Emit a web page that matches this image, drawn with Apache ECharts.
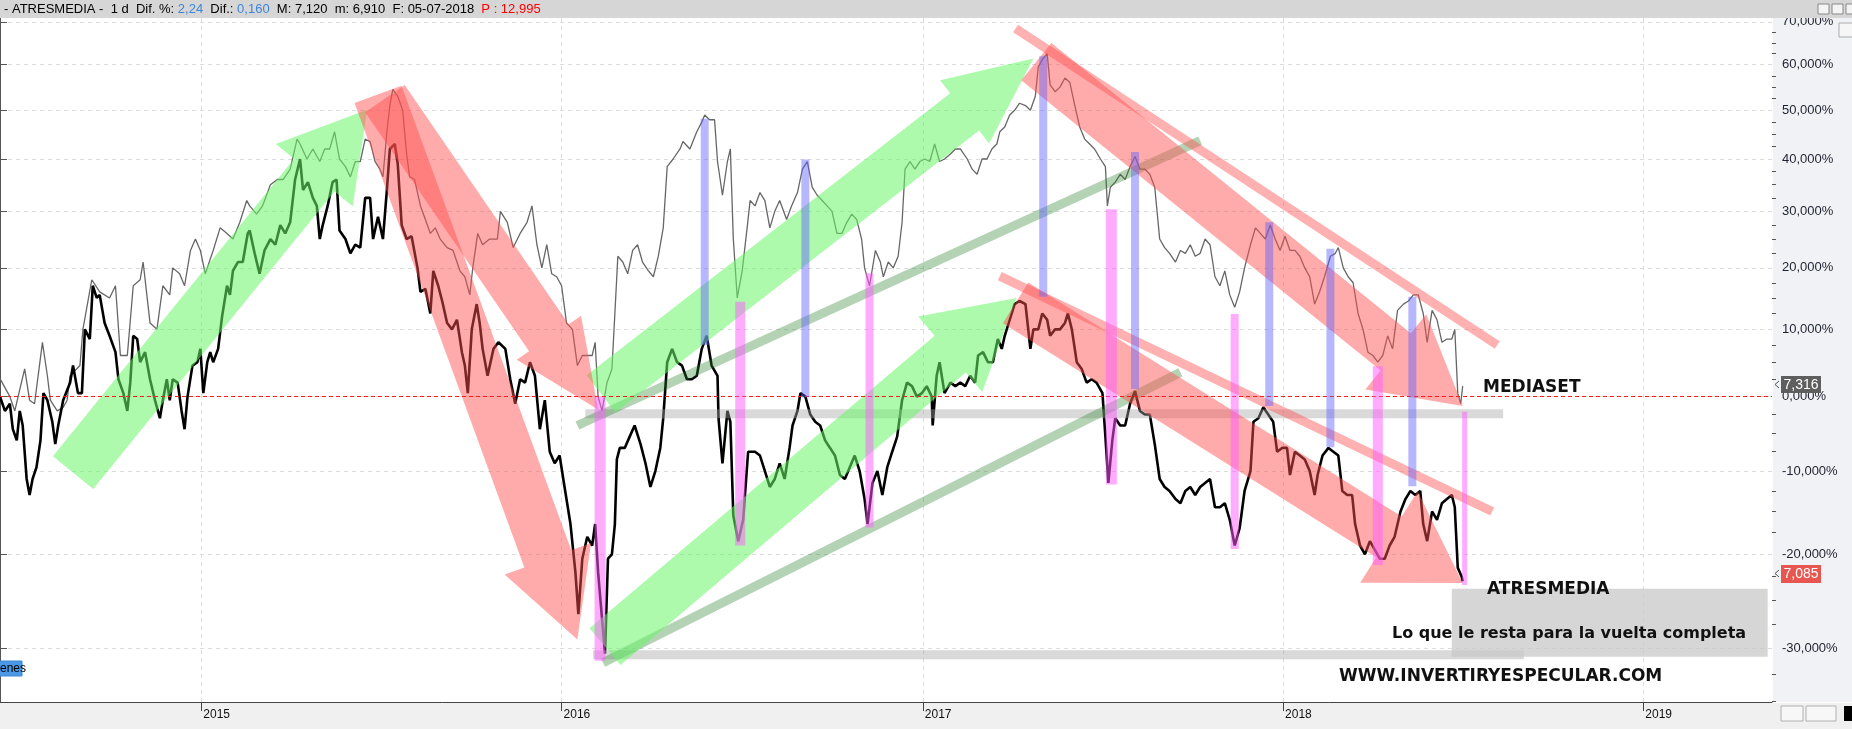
<!DOCTYPE html>
<html><head><meta charset="utf-8">
<script src="https://cdn.jsdelivr.net/npm/echarts@6/dist/echarts.min.js"></script>
<style>html,body{margin:0;padding:0;background:#fff;}#c{width:1852px;height:729px;}</style>
</head><body><div id="c"></div>
<script>
// ---- axis ticks (x in days since 2014-06-11, y in % change) ----
const yearTickDays = [204, 569, 935, 1300, 1665];
const yearTickLabels = ['2015', '2016', '2017', '2018', '2019'];
const pctTicks = [-30, -20, -10, 0, 10, 20, 30, 40, 50, 60, 70];
const pctMinorTicks = [-35,-32.5,-27.5,-25,-22.5,-17.5,-15,-12.5,-7.5,-5,-2.5,2.5,5,7.5,12.5,15,17.5,22.5,25,27.5,32.5,35,37.5,42.5,45,47.5,52.5,55,57.5,62.5,65,67.5];

// ---- MEDIASET (grey) [day, %] ----
const mediaset = [[0,2.6],[10,0],[15,-2],[20,1],[25,4],[30,-0.5],[35,-1],[43,8],[48,3],[51,-0.5],[58,-2],[64,-1.5],[68,-0.5],[71,3],[81,4.5],[84,10],[93,18],[101,16],[111,15],[117,17],[122,6],[129,6],[135,17],[142,18],[145,21],[152,11],[159,10],[165,17],[172,15.5],[175,20],[182,19],[187,17],[193,23],[198,25],[203,23],[208,19],[216,23],[223,27],[230,26],[236,25],[243,28],[250,32],[253,31],[260,29.5],[266,31],[274,35],[281,36],[287,36],[294,38],[301,44],[304,43],[311,40],[317,42],[324,39.5],[329,42],[334,42],[339,45.5],[344,40],[350,38.5],[355,36.5],[360,39.5],[365,39.5],[370,44],[375,43.5],[380,39.5],[385,38],[388,36.5],[392,45.5],[395,51],[398,54.5],[403,53],[408,50],[412,41],[415,36.5],[420,36],[426,31],[431,28.5],[436,26],[441,27],[446,25],[453,23.5],[459,23],[466,19.5],[471,18.5],[476,15.5],[479,20],[484,26],[489,24],[496,25],[504,25],[507,30],[514,28],[520,23.5],[527,26],[534,28],[539,31],[544,24],[549,20],[554,24],[559,19],[564,18.5],[569,17],[574,11],[580,10],[585,4.5],[590,6],[595,6],[600,6],[603,8],[606,0],[610,-2],[615,2],[620,4],[623,12.5],[626,22],[631,21],[636,19],[641,23],[646,24],[651,21],[657,19.5],[662,18.5],[667,22],[672,27],[676,38.5],[682,40],[689,42],[692,43.5],[699,42],[706,45.5],[711,47.5],[714,49],[719,48],[724,48],[727,39.5],[732,33],[737,39.5],[740,42],[743,25],[747,15],[752,19.5],[757,27],[760,32],[765,31],[770,33.5],[775,32],[780,27],[785,30],[790,32],[797,28.5],[802,31],[808,33.5],[813,38],[818,39.5],[823,34.5],[828,33],[833,32],[838,31],[843,30],[848,26],[853,26],[858,28],[863,29.5],[868,28.5],[873,25],[876,20],[881,17],[887,23],[892,21],[895,18.5],[900,21],[905,20],[910,22],[914,28],[917,38],[922,39.5],[927,38],[932,39.5],[937,40],[942,39.5],[947,43],[952,39.5],[957,40],[963,41],[968,42],[973,42],[980,40],[985,38],[990,37],[995,40],[1000,40],[1005,42],[1010,43],[1013,45.5],[1018,46.5],[1023,49],[1028,50],[1033,51.5],[1039,51],[1044,50],[1049,53],[1052,59.5],[1057,61.5],[1061,62.5],[1064,55.5],[1069,54],[1074,55],[1079,57],[1084,56],[1089,51],[1094,46.5],[1099,44],[1104,43],[1109,42],[1115,40],[1120,38.5],[1122,31],[1125,34.5],[1130,35.5],[1135,37],[1140,36],[1145,38.5],[1150,40.5],[1155,38],[1160,38],[1165,37],[1170,34.5],[1175,25],[1180,23.5],[1185,22.5],[1191,21],[1196,23],[1201,22.5],[1206,24],[1211,22],[1216,22.5],[1221,25],[1226,24],[1231,18.5],[1236,17],[1241,19.5],[1246,15.5],[1251,13.5],[1256,16],[1261,20],[1267,24],[1272,27],[1277,26],[1282,25],[1287,27.5],[1292,25],[1297,23],[1302,25.5],[1307,23],[1312,23],[1317,22],[1322,20],[1327,18.5],[1332,14],[1337,16],[1342,18.5],[1348,22],[1353,22.5],[1356,23.5],[1361,20],[1366,18.5],[1371,17.5],[1376,12.5],[1381,10],[1386,6.5],[1391,6],[1396,5],[1401,6],[1406,9],[1411,7],[1416,13],[1422,14],[1427,14.5],[1432,15.5],[1437,15.5],[1442,12.5],[1446,8],[1451,13],[1456,11.5],[1461,8],[1466,8.5],[1471,8.5],[1474,10],[1477,0.5],[1480,-1],[1482,1.5]];

// ---- ATRESMEDIA (black) [day, %] ----
const atresmedia = [[0,0],[5,-2],[10,-1],[13,-4.5],[17,-6],[20,-2],[23,-4],[27,-11],[30,-13],[33,-11],[37,-9.5],[41,-6],[44,0.5],[48,-0.5],[53,-3.5],[56,-6.5],[59,-4],[64,-0.5],[71,2],[74,4.5],[79,0.5],[83,0.5],[86,10],[91,8.5],[94,17],[98,15],[101,15.5],[106,11],[111,9],[117,6.5],[120,2.5],[125,0.5],[129,-2],[132,2],[135,9],[139,8.5],[142,5],[147,6.5],[152,2.5],[157,-0.5],[162,-3],[165,-0.5],[169,2.5],[172,-0.5],[175,2.5],[180,2],[184,-2],[187,-4.5],[190,0],[195,4.5],[200,5],[203,7],[206,0.5],[210,5],[213,6.5],[216,5],[221,7],[225,12],[230,17],[233,15.5],[236,19.5],[241,21],[246,21],[251,26],[253,26.5],[258,22.5],[263,19],[268,23],[274,25],[279,24],[284,27.5],[289,26],[294,28],[299,36],[304,40],[307,34],[312,35.5],[317,32.5],[321,31],[324,25],[327,27.5],[332,31],[337,35.5],[341,36],[344,26.5],[350,25],[355,22.5],[360,24],[365,23.5],[370,32.5],[375,32.5],[378,25],[383,29],[388,25],[392,34],[395,42],[400,43],[403,39],[407,27.5],[412,25],[417,25.5],[423,20],[426,16],[431,16.5],[436,12.5],[439,19.5],[444,17],[448,14.5],[453,11],[458,10],[463,11.5],[468,6.5],[471,4.5],[474,0.5],[478,10],[483,14],[486,11],[489,7],[494,3],[500,7],[505,8],[512,7],[517,2.5],[522,-1],[527,2.5],[532,2],[537,5],[542,3],[547,-4.5],[552,-0.5],[557,-7.5],[562,-9],[567,-8],[572,-12],[578,-16.5],[583,-22],[586,-26.5],[590,-20.5],[595,-18],[600,-19],[603,-16.5],[606,-22],[610,-27],[613,-30.5],[616,-20.5],[620,-20],[623,-16.5],[625,-8.5],[628,-7],[633,-7],[638,-5.5],[643,-4],[649,-6.5],[654,-9],[659,-12],[664,-10],[669,-7],[672,-3],[676,5],[681,7],[686,5],[691,4.5],[696,2.5],[701,2.5],[706,3],[711,7],[716,9],[721,4.5],[727,3],[728,-3],[732,-9],[737,-2],[740,-3.5],[743,-15.5],[748,-18.5],[753,-16],[758,-7.5],[765,-7.5],[770,-8],[775,-10],[780,-12],[785,-11],[790,-9],[795,-11],[800,-7],[803,-4],[808,-2],[811,0.5],[816,0],[821,-2.5],[826,-3.5],[831,-4],[836,-6],[841,-7],[846,-8],[851,-10.5],[856,-11],[861,-9.5],[866,-8],[871,-10],[876,-13.5],[879,-16.5],[884,-11.5],[889,-10],[894,-13],[899,-9.5],[904,-7.5],[909,-5.5],[914,-0.5],[919,2],[924,1.5],[929,0],[934,0.5],[939,1.5],[944,0],[945,-4],[949,3],[952,5],[957,0.5],[963,2],[968,1.5],[973,2],[978,1.5],[983,3],[988,2],[991,6],[996,6.5],[1001,5],[1006,5],[1011,8.5],[1015,7],[1018,9],[1023,11.5],[1028,14],[1033,14.5],[1039,14],[1044,7],[1047,10],[1052,10],[1056,12.5],[1061,11.5],[1064,9],[1069,10],[1074,10],[1079,11],[1082,12.5],[1086,10],[1091,5],[1096,4],[1101,2],[1106,2.5],[1111,2],[1117,0.5],[1120,-5.5],[1123,-11.5],[1127,-6],[1130,-3],[1135,-4],[1140,-4],[1145,-1],[1150,0.8],[1155,-2],[1160,-2.5],[1165,-2.5],[1170,-6.5],[1175,-11],[1180,-12],[1185,-12.5],[1191,-13.5],[1196,-14],[1201,-12.5],[1206,-12],[1211,-13],[1216,-12],[1221,-11.5],[1226,-11],[1231,-14.5],[1236,-14.5],[1241,-14],[1246,-16],[1251,-19],[1256,-17],[1261,-12.5],[1267,-10],[1270,-3.5],[1275,-3],[1280,-1.5],[1285,-2.5],[1290,-3.5],[1294,-7.5],[1299,-7],[1304,-7],[1307,-10.5],[1312,-7.5],[1317,-8],[1322,-8.5],[1327,-10],[1332,-13],[1335,-10.5],[1340,-8],[1346,-7],[1351,-7.5],[1356,-8],[1360,-12.5],[1365,-13],[1370,-13],[1373,-16.5],[1378,-19],[1383,-20],[1388,-18.5],[1393,-19.5],[1398,-20.5],[1403,-20.5],[1408,-19],[1413,-18],[1419,-15],[1424,-13.5],[1429,-12.5],[1434,-13],[1439,-12.5],[1442,-16.5],[1446,-18.5],[1451,-15],[1456,-16],[1461,-14],[1466,-13.5],[1471,-13],[1474,-14.5],[1477,-21.5],[1481,-22.5],[1482,-23]];

// ---- annotations (data coordinates: [day, %]) ----
const greenArrows = [[74,-10.2,372,50.1],[609,0.4,1047,61.4],[613,-29.8,1030,15.0]];
const redArrows = [[383,53.4,585,-29.1],[390,52.5,606,-1.8],[1050,60.7,1482,-1.3],[1029,14.2,1482,-23.2]];
const redLines = [[1029,68.4,1517,7.6],[1013,18.6,1512,-15.0]];
const greenLines = [[585,-4.0,1216,43.7],[611,-31.4,1196,3.5]];
const greyBands = [[593,1523,-2.4],[601,1544,-30.6]];
const blueBars = [[714,48.2,7.6],[816,39.9,-0.1],[1057,61.9,15.2],[1150,41.4,1.1],[1286,28.0,-1.3],[1348,23.3,-6.9],[1431,15.2,-11.9]];
const pinkBars = [[608,0,-31.2],[750,14.4,-19.0],[881,19.1,-16.9],[1126,30.4,-11.7],[1251,12.4,-19.4],[1396,4.4,-21.2],[1484,-2.1,-23.4]];
const noteBox = [[1471,-23.8,1791,-30.8]];

// ---- styles / sizes (pixels) ----
const greenArrowSizes = [[52,99,84],[47,80,87],[48,99,87]];
const redArrowSizes = [[50,92,86],[48,78,87],[48,97,86],[48,108,87]];
const pinkBarWidths = [11,10,8,11,8,10,5];

const toY = p => Math.log(1 + p / 100);

function arrowSeries(list, sizes, color) {
  return {
    type: 'custom', silent: true, z: 4,
    data: list.map(a => [a[0], toY(a[1]), a[2], toY(a[3])]),
    encode: { x: [0, 2], y: [1, 3] },
    renderItem(params, api) {
      const p0 = api.coord([api.value(0), api.value(1)]);
      const p1 = api.coord([api.value(2), api.value(3)]);
      const s = sizes[params.dataIndex];
      const sw = s[0], hw = s[1], hl = s[2];
      const dx = p1[0] - p0[0], dy = p1[1] - p0[1], L = Math.hypot(dx, dy);
      const ux = dx / L, uy = dy / L, nx = -uy, ny = ux;
      const bx = p1[0] - ux * hl, by = p1[1] - uy * hl;
      const pts = [
        [p0[0] + nx * sw / 2, p0[1] + ny * sw / 2],
        [bx + nx * sw / 2, by + ny * sw / 2],
        [bx + nx * hw / 2, by + ny * hw / 2],
        [p1[0], p1[1]],
        [bx - nx * hw / 2, by - ny * hw / 2],
        [bx - nx * sw / 2, by - ny * sw / 2],
        [p0[0] - nx * sw / 2, p0[1] - ny * sw / 2]
      ];
      return { type: 'polygon', shape: { points: pts }, style: { fill: color } };
    }
  };
}
function lineSeries(list, color, width) {
  return {
    type: 'custom', silent: true, z: 4,
    data: list.map(a => [a[0], toY(a[1]), a[2], toY(a[3])]),
    encode: { x: [0, 2], y: [1, 3] },
    renderItem(params, api) {
      const p0 = api.coord([api.value(0), api.value(1)]);
      const p1 = api.coord([api.value(2), api.value(3)]);
      return { type: 'line', shape: { x1: p0[0], y1: p0[1], x2: p1[0], y2: p1[1] },
        style: { stroke: color, lineWidth: width, lineCap: 'butt' } };
    }
  };
}
function vbarSeries(list, widthOf, color, z) {
  return {
    type: 'custom', silent: true, z: z,
    data: list.map(b => [b[0], toY(b[1]), toY(b[2])]),
    encode: { x: 0, y: [1, 2] },
    renderItem(params, api) {
      const t = api.coord([api.value(0), api.value(1)]);
      const b = api.coord([api.value(0), api.value(2)]);
      const w = widthOf(params.dataIndex);
      return { type: 'rect', shape: { x: t[0] - w / 2, y: t[1], width: w, height: b[1] - t[1] },
        style: { fill: color } };
    }
  };
}
function hbandSeries(list, color, h) {
  return {
    type: 'custom', silent: true, z: 3,
    data: list.map(b => [b[0], b[1], toY(b[2])]),
    encode: { x: [0, 1], y: 2 },
    renderItem(params, api) {
      const a = api.coord([api.value(0), api.value(2)]);
      const b = api.coord([api.value(1), api.value(2)]);
      return { type: 'rect', shape: { x: a[0], y: a[1] - h / 2, width: b[0] - a[0], height: h },
        style: { fill: color } };
    }
  };
}
function boxSeries(list, color) {
  return {
    type: 'custom', silent: true, z: 6,
    data: list.map(b => [b[0], toY(b[1]), b[2], toY(b[3])]),
    encode: { x: [0, 2], y: [1, 3] },
    renderItem(params, api) {
      const a = api.coord([api.value(0), api.value(1)]);
      const b = api.coord([api.value(2), api.value(3)]);
      return { type: 'rect', shape: { x: a[0], y: a[1], width: b[0] - a[0], height: b[1] - a[1] },
        style: { fill: color } };
    }
  };
}

const chart = echarts.init(document.getElementById('c'), null, { renderer: 'canvas' });
const yMin = -0.4323, yMax = 0.5361;
const dash = { color: '#dcdcdc', type: [4, 4], width: 1 };

chart.setOption({
  animation: false,
  backgroundColor: '#ffffff',
  grid: { left: 0, right: 80, top: 18, bottom: 27, containLabel: false, outerBoundsMode: 'none' },
  xAxis: {
    type: 'value', min: 0, max: 1795.4,
    axisLine: { show: true, onZero: false, lineStyle: { color: '#444', width: 1 } },
    axisTick: { show: true, length: 9, customValues: yearTickDays, lineStyle: { color: '#444' } },
    axisLabel: {
      customValues: yearTickDays, align: 'left', margin: 7, padding: [0, 0, 0, 2],
      fontFamily: 'Liberation Sans', fontSize: 12, color: '#111',
      formatter: v => yearTickLabels[yearTickDays.indexOf(Math.round(v))] || ''
    },
    splitLine: { show: true, lineStyle: dash }
  },
  yAxis: [{
    type: 'value', position: 'right', min: yMin, max: yMax,
    axisLine: { show: true, lineStyle: { color: '#555', width: 1 } },
    axisTick: { show: true, length: 7, customValues: pctTicks.map(toY), lineStyle: { color: '#555' } },
    axisLabel: {
      customValues: pctTicks.map(toY), margin: 10, align: 'left',
      fontFamily: 'Liberation Sans', fontSize: 13, color: '#1e2230',
      formatter: v => Math.round((Math.exp(v) - 1) * 100) + ',000%'
    },
    splitLine: { show: true, lineStyle: dash }
  }, {
    type: 'value', position: 'right', min: yMin, max: yMax,
    axisLine: { show: false },
    axisTick: { show: true, length: 4, customValues: pctMinorTicks.map(toY), lineStyle: { color: '#555' } },
    axisLabel: { show: false, customValues: pctMinorTicks.map(toY) },
    splitLine: { show: false }
  }],
  series: [
    {
      type: 'line', name: 'MEDIASET', z: 2, symbol: 'none', showSymbol: false,
      data: mediaset.map(d => [d[0], toY(d[1])]),
      lineStyle: { color: '#666666', width: 1.3 },
      markLine: {
        silent: true, symbol: ['none', 'none'], label: { show: false },
        lineStyle: { color: '#ff1a1a', type: [4, 3], width: 1.2 },
        data: [{ yAxis: 0 }]
      }
    },
    {
      type: 'line', name: 'ATRESMEDIA', z: 2, symbol: 'none', showSymbol: false,
      data: atresmedia.map(d => [d[0], toY(d[1])]),
      lineStyle: { color: '#000000', width: 2.6 }
    },
    hbandSeries(greyBands, 'rgba(165,165,165,0.42)', 9),
    lineSeries(greenLines, 'rgba(40,130,40,0.35)', 9),
    lineSeries(redLines, 'rgba(255,80,80,0.45)', 9),
    arrowSeries(greenArrows, greenArrowSizes, 'rgba(105,245,105,0.55)'),
    arrowSeries(redArrows, redArrowSizes, 'rgba(255,80,80,0.48)'),
    vbarSeries(blueBars, () => 8, 'rgba(95,95,255,0.45)', 5),
    vbarSeries(pinkBars, i => pinkBarWidths[i], 'rgba(255,90,255,0.5)', 5),
    boxSeries(noteBox, 'rgba(200,200,200,0.75)')
  ],
  graphic: { elements: [
    { type: 'rect', silent: true, shape: { x: 0, y: 0, width: 1852, height: 18 }, style: { fill: '#d6d6d6' }, z: 100 },
    { type: 'text', silent: true, x: 4, y: 9, z: 101, style: {
      text: '{k|- ATRESMEDIA -  1 d  Dif. %: }{b|2,24}{k|  Dif.: }{b|0,160}{k|  M: 7,120  m: 6,910  F: 05-07-2018  }{r|P : 12,995}',
      verticalAlign: 'middle', font: '13px "Liberation Sans"',
      rich: { k: { fill: '#000', font: '13px "Liberation Sans"' }, b: { fill: '#3f86d9', font: '13px "Liberation Sans"' }, r: { fill: '#ff0000', font: '13px "Liberation Sans"' } }
    } },
    { type: 'rect', silent: true, shape: { x: 1818, y: 4, width: 11, height: 10 }, style: { fill: '#f4f4f4', stroke: '#888', lineWidth: 1 }, z: 101 },
    { type: 'rect', silent: true, shape: { x: 1832, y: 4, width: 11, height: 10 }, style: { fill: '#f4f4f4', stroke: '#888', lineWidth: 1 }, z: 101 },
    { type: 'rect', silent: true, shape: { x: 1846, y: 4, width: 11, height: 10 }, style: { fill: '#f4f4f4', stroke: '#888', lineWidth: 1 }, z: 101 },
    { type: 'rect', silent: true, shape: { x: 1773, y: 18, width: 79, height: 684 }, style: { fill: '#f1f2f5' }, z: -10 },
    { type: 'rect', silent: true, shape: { x: 1839, y: 23, width: 16, height: 14 }, style: { fill: '#f6f6f6', stroke: '#aaa', lineWidth: 1 }, z: 50 },
    { type: 'rect', silent: true, shape: { x: 0, y: 703, width: 1852, height: 26 }, style: { fill: '#f0f0f0' }, z: -10 },
    { type: 'rect', silent: true, shape: { x: 1781, y: 706, width: 22, height: 15 }, style: { fill: '#f7f7f7', stroke: '#b0b0b0', lineWidth: 1 }, z: 50 },
    { type: 'rect', silent: true, shape: { x: 1806, y: 706, width: 30, height: 15 }, style: { fill: '#f7f7f7', stroke: '#b0b0b0', lineWidth: 1 }, z: 50 },
    { type: 'rect', silent: true, shape: { x: 1844, y: 706, width: 8, height: 15 }, style: { fill: '#000' }, z: 50 },
    // price tags
    { type: 'polyline', silent: true, shape: { points: [[1779, 381], [1775, 384.5], [1779, 388]] }, style: { stroke: '#555', lineWidth: 1, fill: null }, z: 60 },
    { type: 'rect', silent: true, shape: { x: 1781, y: 376, width: 40, height: 17 }, style: { fill: '#5e5e5e' }, z: 60 },
    { type: 'text', silent: true, x: 1801, y: 385, z: 61, style: { text: '7,316', fill: '#fff', font: '14px "Liberation Sans"', align: 'center', verticalAlign: 'middle' } },
    { type: 'polyline', silent: true, shape: { points: [[1779, 570], [1775, 573.5], [1779, 577]] }, style: { stroke: '#555', lineWidth: 1, fill: null }, z: 60 },
    { type: 'rect', silent: true, shape: { x: 1781, y: 565, width: 40, height: 18 }, style: { fill: '#e85652' }, z: 60 },
    { type: 'text', silent: true, x: 1801, y: 574, z: 61, style: { text: '7,085', fill: '#fff', font: '14px "Liberation Sans"', align: 'center', verticalAlign: 'middle' } },
    // volumes label
    { type: 'rect', silent: true, shape: { x: -2, y: 661, width: 24, height: 15 }, style: { fill: '#4a98e6', stroke: '#3a88d6', lineWidth: 1 }, z: 60 },
    { type: 'text', silent: true, x: 0, y: 669, z: 61, style: { text: 'enes', fill: '#000', font: '12px "Liberation Sans"', verticalAlign: 'middle' } },
    // annotation texts
    { type: 'text', silent: true, x: 1483, y: 388, z: 70, style: { text: 'MEDIASET', fill: '#111', font: 'bold 17px "DejaVu Sans"', verticalAlign: 'middle' } },
    { type: 'text', silent: true, x: 1487, y: 590, z: 70, style: { text: 'ATRESMEDIA', fill: '#111', font: 'bold 17px "DejaVu Sans"', verticalAlign: 'middle' } },
    { type: 'text', silent: true, x: 1392, y: 634, z: 70, style: { text: 'Lo que le resta para la vuelta completa', fill: '#111', font: 'bold 16px "DejaVu Sans"', verticalAlign: 'middle' } },
    { type: 'text', silent: true, x: 1339, y: 677, z: 70, style: { text: 'WWW.INVERTIRYESPECULAR.COM', fill: '#111', font: 'bold 17px "DejaVu Sans"', verticalAlign: 'middle' } }
  ] }
});
</script>
</body></html>
